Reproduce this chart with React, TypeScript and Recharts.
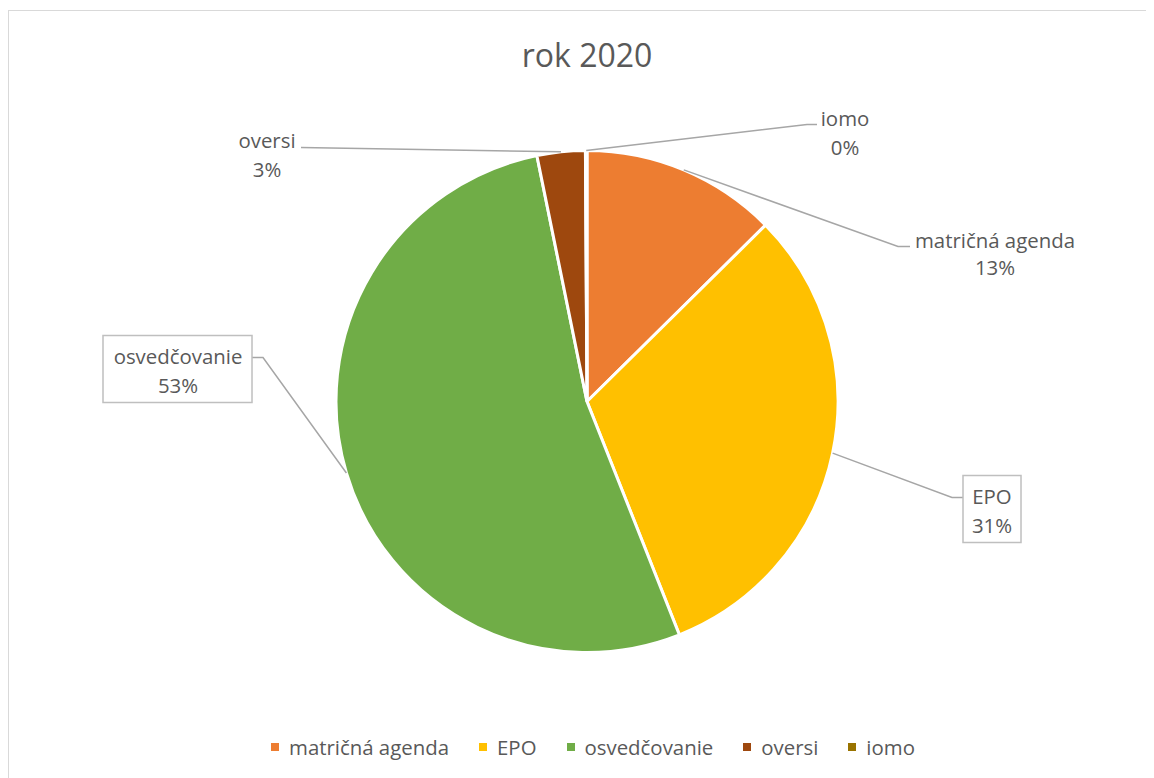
import React from 'react';
import { PieChart, Pie, Cell, Legend } from 'recharts';

const TITLE = 'rok 2020';
const CATEGORIES = ['matričná agenda', 'EPO', 'osvedčovanie', 'oversi', 'iomo'];
const VALUES = [12.6, 31.4, 52.8, 3.1, 0.1];
const COLORS = ['#ED7D31', '#FFC000', '#70AD47', '#9E480E', '#997300'];

// label layout offsets relative to pie centre (layout only)
const LABEL_LAYOUT = [
  { elbow: [311, -155], end: [323, -155], tx: 408, ty: [-154, -127], box: null },
  { elbow: [365, 96], end: [376, 96], tx: 405, ty: [102, 131], box: [376, 74, 58, 67] },
  { elbow: [-324, -44], end: [-335, -44], tx: -409, ty: [-38, -9], box: [-484, -66, 149, 67] },
  { elbow: null, end: [-286, -254], tx: -320, ty: [-254, -225], box: null },
  { elbow: [220, -277], end: [230, -277], tx: 258, ty: [-276, -247], box: null },
];

const data = CATEGORIES.map((name, i) => ({ name, value: VALUES[i], fill: COLORS[i] }));

const FONT = '"Open Sans", sans-serif';
const TEXT = '#595959';
const LINE = '#a6a6a6';
const RAD = Math.PI / 180;
const LABEL_SIZE = 20.4;

const renderLabel = (props: any) => {
  const { cx, cy, midAngle, outerRadius, index, percent, name } = props;
  const L = LABEL_LAYOUT[index];
  const sx = cx + outerRadius * Math.cos(-midAngle * RAD);
  const sy = cy + outerRadius * Math.sin(-midAngle * RAD);
  const pts: number[][] = [[sx, sy]];
  if (L.elbow) pts.push([cx + L.elbow[0], cy + L.elbow[1]]);
  pts.push([cx + L.end[0], cy + L.end[1]]);
  const d = pts.map((p, i) => `${i ? 'L' : 'M'}${p[0]},${p[1]}`).join(' ');
  return (
    <g key={`lbl-${index}`}>
      <path d={d} stroke={LINE} strokeWidth={1.5} fill="none" />
      {L.box && (
        <rect x={cx + L.box[0]} y={cy + L.box[1]} width={L.box[2]} height={L.box[3]} fill="#fff" stroke="#bfbfbf" strokeWidth={1.5} />
      )}
      <text x={cx + L.tx} y={cy + L.ty[0]} textAnchor="middle" fill={TEXT} fontFamily={FONT} fontSize={LABEL_SIZE}>
        {name}
      </text>
      <text x={cx + L.tx} y={cy + L.ty[1]} textAnchor="middle" fill={TEXT} fontFamily={FONT} fontSize={LABEL_SIZE}>
        {`${Math.round(percent * 100)}%`}
      </text>
    </g>
  );
};

const renderLegend = (props: any) => {
  const payload = [...(props.payload || [])].sort(
    (a: any, b: any) => CATEGORIES.indexOf(a.value) - CATEGORIES.indexOf(b.value)
  );
  return (
    <div style={{ display: 'flex', alignItems: 'center', fontFamily: FONT, fontSize: LABEL_SIZE, lineHeight: '24px', color: TEXT, whiteSpace: 'nowrap' }}>
      {payload.map((p: any, i: number) => (
        <span key={i} style={{ display: 'inline-flex', alignItems: 'center', marginRight: i < payload.length - 1 ? 30 : 0 }}>
          <span style={{ display: 'inline-block', width: 8, height: 8, background: p.color, marginRight: 10, marginTop: -1 }} />
          <span>{p.value}</span>
        </span>
      ))}
    </div>
  );
};

export default function App() {
  return (
    <div style={{ position: 'relative', width: 1146, height: 770, overflow: 'hidden' }}>
      <div style={{ position: 'absolute', left: 0, top: 2, width: 1200, height: 800, borderTop: '1px solid #d9d9d9', borderLeft: '1px solid #d9d9d9' }} />
      <div style={{ position: 'absolute', left: 579, top: 31, transform: 'translateX(-50%)', fontFamily: FONT, fontSize: 32, lineHeight: '32px', color: TEXT, whiteSpace: 'nowrap' }}>
        {TITLE}
      </div>
      <div style={{ position: 'absolute', left: 0, top: 0 }}>
        <PieChart width={1146} height={770} margin={{ top: 0, right: 0, bottom: 0, left: 0 }}>
          <Pie
            data={data}
            dataKey="value"
            nameKey="name"
            cx={579}
            cy={393.5}
            outerRadius={251}
            startAngle={90}
            endAngle={-270}
            stroke="#ffffff"
            strokeWidth={3}
            isAnimationActive={false}
            label={renderLabel}
            labelLine={false}
          >
            {data.map((d, i) => (
              <Cell key={i} fill={COLORS[i]} />
            ))}
          </Pie>
          <Legend content={renderLegend} wrapperStyle={{ left: 263, top: 727, width: 'auto', bottom: 'auto' }} />
        </PieChart>
      </div>
    </div>
  );
}
